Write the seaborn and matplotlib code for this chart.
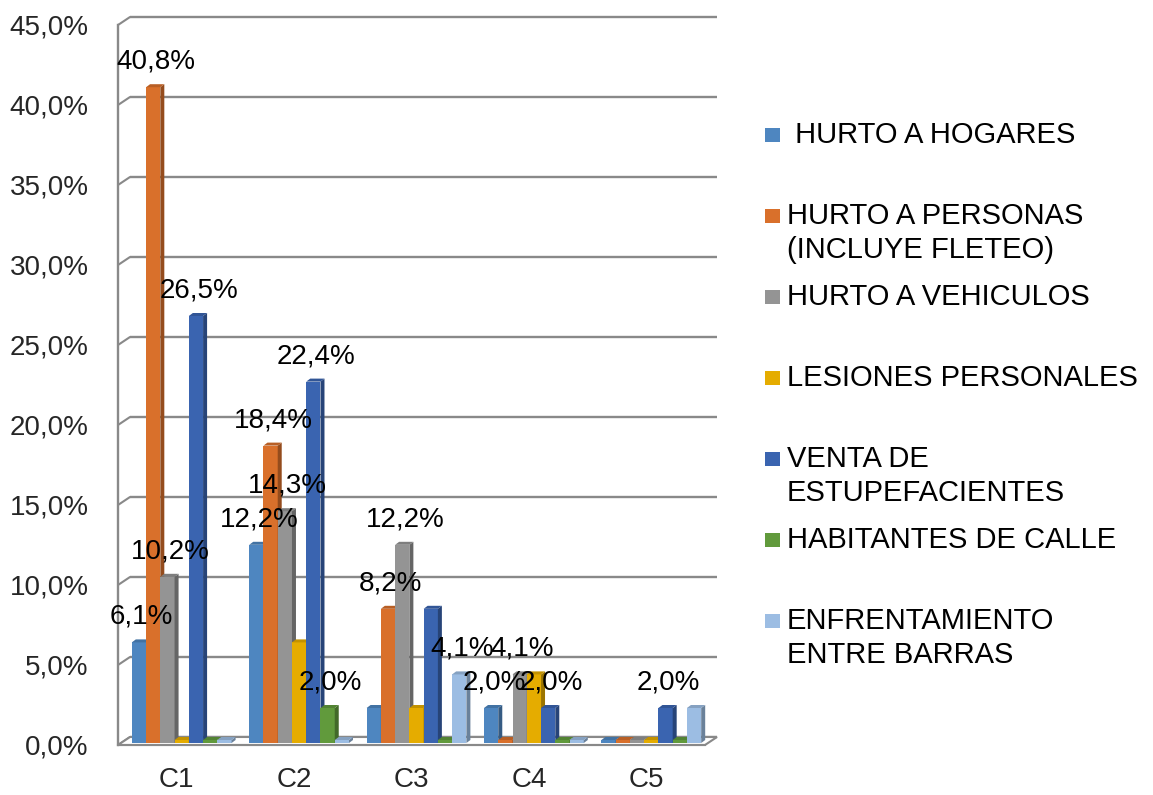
import numpy as np
import pandas as pd
import matplotlib
matplotlib.use("Agg")
import matplotlib.pyplot as plt
import matplotlib.colors as mcolors
from matplotlib.patches import Polygon, Rectangle
import seaborn as sns

# ---------------- data ----------------
categories = ["C1", "C2", "C3", "C4", "C5"]
series_names = [" HURTO A HOGARES",
                "HURTO A PERSONAS\n(INCLUYE FLETEO)",
                "HURTO A VEHICULOS",
                "LESIONES PERSONALES",
                "VENTA DE\nESTUPEFACIENTES",
                "HABITANTES DE CALLE",
                "ENFRENTAMIENTO\nENTRE BARRAS"]
hurto_hogares = [6.1, 12.2, 2.0, 2.0, 0.0]
hurto_personas = [40.8, 18.4, 8.2, 0.0, 0.0]
hurto_vehiculos = [10.2, 14.3, 12.2, 4.1, 0.0]
lesiones_personales = [0.0, 6.1, 2.0, 4.1, 0.0]
venta_estupefacientes = [26.5, 22.4, 8.2, 2.0, 2.0]
habitantes_calle = [0.0, 2.0, 0.0, 0.0, 0.0]
enfrentamiento_barras = [0.0, 0.0, 4.1, 0.0, 2.0]
# which values carry a visible data label in the original chart
label_hogares = [1, 1, 0, 1, 0]
label_personas = [1, 1, 1, 0, 0]
label_vehiculos = [1, 1, 1, 1, 0]
label_lesiones = [0, 0, 0, 0, 0]
label_venta = [1, 1, 0, 1, 1]
label_habitantes = [0, 1, 0, 0, 0]
label_enfrentamiento = [0, 0, 1, 0, 0]
y_ticks = [0, 5, 10, 15, 20, 25, 30, 35, 40, 45]
y_tick_labels = ["0,0%", "5,0%", "10,0%", "15,0%", "20,0%", "25,0%",
                 "30,0%", "35,0%", "40,0%", "45,0%"]

series_values = [hurto_hogares, hurto_personas, hurto_vehiculos, lesiones_personales,
                 venta_estupefacientes, habitantes_calle, enfrentamiento_barras]
series_labels = [label_hogares, label_personas, label_vehiculos, label_lesiones,
                 label_venta, label_habitantes, label_enfrentamiento]

colors = ["#4E86C0", "#D9702B", "#949494", "#E5AC00", "#3A64B0", "#619A3C", "#9CBDE3"]
grid_color = "#898989"

# ---------------- style ----------------
sns.set_style("white")
plt.rcParams["font.family"] = ["Liberation Sans", "DejaVu Sans"]

W, H = 1153, 795
fig = plt.figure(figsize=(W / 100, H / 100), dpi=100)
ax = fig.add_axes([118 / W, 1 - 745 / H, (705 - 118) / W, (745 - 25) / H])
ax.set_facecolor("none")

rows = []
for name, vals in zip(series_names, series_values):
    for c, v in zip(categories, vals):
        rows.append({"cat": c, "series": name, "val": v})
df = pd.DataFrame(rows)

sns.barplot(data=df, x="cat", y="val", hue="series", order=categories,
            hue_order=series_names, palette=colors, width=0.85, saturation=1,
            legend=False, ax=ax, linewidth=0, errorbar=None)

ax.set_xlim(-0.5, 4.5)
ax.set_ylim(0, 45)


def px_delta(px, py):
    """convert a pixel offset into a data-unit offset"""
    p0 = ax.transData.transform((0, 0))
    x1, y1 = ax.transData.inverted().transform((p0[0] + px, p0[1] + py))
    x0, y0 = ax.transData.inverted().transform(p0)
    return x1 - x0, y1 - y0


wall_dx, wall_dy = px_delta(12, 8)
bar_dx, bar_dy = px_delta(4, 3)
shift_x, base_y = px_delta(5, 2)

# back wall gridlines and 3D connectors
for v in y_ticks:
    ax.plot([-0.5 + wall_dx, 4.5 + wall_dx], [v + wall_dy, v + wall_dy],
            color=grid_color, lw=1.7, zorder=1, clip_on=False, solid_capstyle="butt")
    ax.plot([-0.5, -0.5 + wall_dx], [v, v + wall_dy], color=grid_color, lw=1.5,
            zorder=1, clip_on=False)

# floor
floor = Polygon([(-0.5, 0), (4.5, 0), (4.5 + wall_dx, wall_dy), (-0.5 + wall_dx, wall_dy)],
                closed=True, facecolor="white", edgecolor=grid_color, lw=1.5,
                zorder=1.5, clip_on=False)
ax.add_patch(floor)


def shade(c, f):
    r, g, b = mcolors.to_rgb(c)
    return (r * f, g * f, b * f)


# 3D side and top faces for each bar (bar tops measured against the back wall)
for i, cont in enumerate(ax.containers):
    for j, rect in enumerate(cont):
        x0 = rect.get_x() + shift_x
        w = rect.get_width()
        h = rect.get_height()
        top_y = h + wall_dy - bar_dy
        rect.set_x(x0)
        rect.set_y(base_y)
        rect.set_height(top_y - base_y)
        x1 = x0 + w
        z = 3 + 0.1 * i
        rect.set_zorder(z)
        side = Polygon([(x1, base_y), (x1 + bar_dx, base_y + bar_dy),
                        (x1 + bar_dx, top_y + bar_dy), (x1, top_y)],
                       closed=True, facecolor=shade(colors[i], 0.68), edgecolor="none",
                       zorder=z + 0.05, clip_on=False)
        top = Polygon([(x0, top_y), (x1, top_y), (x1 + bar_dx, top_y + bar_dy),
                       (x0 + bar_dx, top_y + bar_dy)],
                      closed=True, facecolor=shade(colors[i], 0.85), edgecolor="none",
                      zorder=z + 0.05, clip_on=False)
        ax.add_patch(side)
        ax.add_patch(top)
        if series_labels[i][j]:
            txt = f"{series_values[i][j]:.1f}%".replace(".", ",")
            ax.annotate(txt, (x0 + w / 2, top_y), xytext=(2, 9), textcoords="offset points",
                        ha="center", va="bottom", fontsize=20, color="black", zorder=10)

# axes cosmetics
for s in ["top", "right"]:
    ax.spines[s].set_visible(False)
ax.spines["left"].set_color(grid_color)
ax.spines["left"].set_linewidth(1.7)
ax.spines["bottom"].set_color(grid_color)
ax.spines["bottom"].set_linewidth(1.5)
ax.spines["left"].set_zorder(6)
ax.spines["bottom"].set_zorder(6)

ax.set_yticks(y_ticks)
ax.set_yticklabels(y_tick_labels, fontsize=20)
ax.tick_params(axis="y", length=5, width=1.5, color=grid_color, pad=16, direction="out")

ax.set_xticks(range(len(categories)))
ax.set_xticklabels(categories, fontsize=20)
ax.set_xticks(np.arange(-0.5, len(categories), 1.0), minor=True)
ax.tick_params(axis="x", which="major", length=0, pad=16)
ax.tick_params(axis="x", which="minor", length=6, width=1.5, color=grid_color, direction="out")
ax.set_xlabel("")
ax.set_ylabel("")
ax.grid(False)

# manual legend (Excel-style layout)
slot = 81
first_center = 135
line_pitch = 34
for i, (name, col) in enumerate(zip(series_names, colors)):
    cy = first_center + slot * i
    fig.patches.append(Rectangle((765 / W, 1 - (cy + 7) / H), 15 / W, 14 / H,
                                 transform=fig.transFigure, facecolor=col,
                                 edgecolor="none"))
    for k, line in enumerate(name.split("\n")):
        fig.text(787 / W, 1 - (cy + k * line_pitch) / H, line, fontsize=21,
                 ha="left", va="center", color="black")

fig.savefig("out.png", dpi=100)
